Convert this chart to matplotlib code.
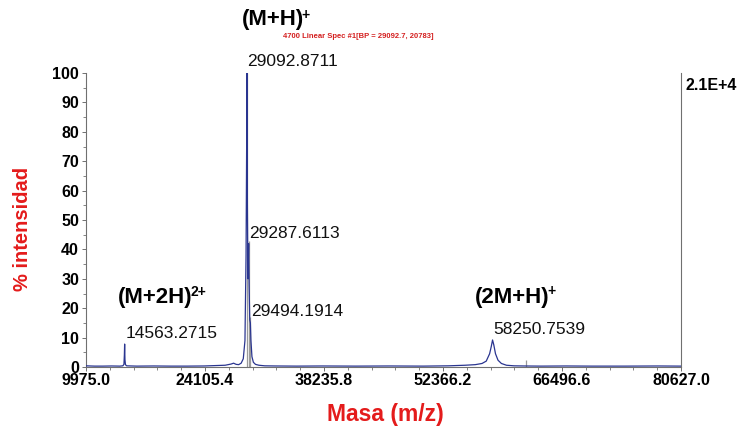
import matplotlib
matplotlib.use("Agg")
import matplotlib.pyplot as plt
from matplotlib.ticker import MultipleLocator, AutoMinorLocator, FixedLocator

plt.rcParams['font.family'] = ['Liberation Sans', 'DejaVu Sans']

# ---- data ----
mz = [9975, 11000, 12000, 13000, 14000, 14350, 14480, 14530, 14563, 14600, 14660, 14800,
      16000, 18000, 20000, 22000, 24000, 25500, 26500, 27200, 27500, 27800, 28100, 28400,
      28650, 28850, 28980, 29050, 29092, 29140, 29200, 29250, 29287, 29340, 29420, 29494,
      29560, 29680, 29850, 30100, 30500, 31200, 32500, 35000, 38000, 42000, 46000, 50000,
      53000, 55000, 56200, 57000, 57500, 57900, 58100, 58250, 58400, 58600, 58900, 59300,
      59900, 60800, 62000, 64000, 67000, 70000, 74000, 78000, 80627]
intensity = [0.4, 0.3, 0.3, 0.35, 0.3, 0.4, 0.9, 4.0, 7.8, 2.5, 0.8, 0.4,
             0.3, 0.35, 0.3, 0.3, 0.35, 0.5, 0.6, 1.0, 1.3, 0.9, 0.8, 1.3,
             2.8, 9.0, 38.0, 75.0, 100.0, 55.0, 30.0, 36.0, 42.0, 28.0, 16.0, 15.0,
             9.0, 3.5, 1.6, 0.9, 0.6, 0.4, 0.35, 0.3, 0.35, 0.3, 0.35, 0.3,
             0.4, 0.6, 0.8, 1.2, 2.0, 4.5, 7.0, 9.2, 7.5, 4.5, 2.3, 1.2,
             0.6, 0.4, 0.35, 0.3, 0.35, 0.3, 0.3, 0.35, 0.3]

marker_mz = [29092.8711, 29287.6113, 29494.1914, 62200]
marker_top = [100, 43, 17, 2.5]

x_ticks = [9975.0, 24105.4, 38235.8, 52366.2, 66496.6, 80627.0]
y_ticks = [0, 10, 20, 30, 40, 50, 60, 70, 80, 90, 100]

peak_labels = ["29092.8711", "29287.6113", "29494.1914", "14563.2715", "58250.7539"]
ion_labels = ["(M+H)", "(M+2H)", "(2M+H)"]
ion_charges = ["+", "2+", "+"]

# ---- figure ----
W, H = 746, 428
fig = plt.figure(figsize=(W / 100, H / 100), dpi=100)
ax = fig.add_axes([86 / W, 1 - 367 / H, (681 - 86) / W, (367 - 73) / H])

spine_c = '#707070'
ax.vlines(marker_mz, 0, marker_top, color='#9a9a9a', lw=0.9, zorder=2)
ax.plot(mz, intensity, color='#2a3590', lw=0.9, zorder=3)

ax.set_xlim(x_ticks[0], x_ticks[-1])
ax.set_ylim(0, 100)
ax.xaxis.set_major_locator(FixedLocator(x_ticks))
ax.set_xticklabels([f"{t:.1f}" for t in x_ticks])
ax.xaxis.set_minor_locator(AutoMinorLocator(5))
ax.yaxis.set_major_locator(FixedLocator(y_ticks))
ax.yaxis.set_minor_locator(MultipleLocator(5))

for s in ['left', 'bottom', 'right']:
    ax.spines[s].set_color(spine_c)
    ax.spines[s].set_linewidth(0.8)
ax.spines['top'].set_visible(False)

ax.tick_params(axis='both', which='major', direction='out', length=3, width=0.7,
               color=spine_c, labelsize=11.5)
ax.tick_params(axis='both', which='minor', direction='out', length=2, width=0.6, color=spine_c)
ax.tick_params(axis='x', pad=1)
ax.tick_params(axis='y', pad=2)
for lab in ax.get_xticklabels() + ax.get_yticklabels():
    lab.set_fontweight('bold')

red = '#e41b1b'
fig.text(23 / W, 1 - 229 / H, "% intensidad", rotation=90, color=red, fontsize=14.5,
         fontweight='bold', ha='center', va='center')
fig.text(385 / W, 1 - 414 / H, "Masa (m/z)", color=red, fontsize=16.5,
         fontweight='bold', ha='center', va='center')

fig.text(283 / W, 1 - 37 / H, "4700 Linear Spec #1[BP = 29092.7, 20783]", color='#d42020',
         fontsize=5.5, fontweight='bold', ha='left', va='center')
fig.text(686 / W, 1 - 86 / H, "2.1E+4", color='black', fontsize=11.5, fontweight='bold',
         ha='left', va='center')

# peak value labels
label_pos = [(247, 62), (249, 233), (251, 311), (126, 333), (493, 330)]
for txt, (px, py) in zip(peak_labels, label_pos):
    fig.text(px / W, 1 - py / H, txt, fontsize=12.5, ha='left', va='center', color='#111111')

# ion labels with superscript charges
ion_pos = [(242, 20), (118, 297), (475, 297)]
renderer = fig.canvas.get_renderer()
for txt, chg, (px, py) in zip(ion_labels, ion_charges, ion_pos):
    t = fig.text(px / W, 1 - py / H, txt, fontsize=16, fontweight='bold', ha='left',
                 va='center', color='black')
    bb = t.get_window_extent(renderer)
    fig.text((bb.x1 - 2.5) / fig.bbox.width, (bb.y1 - 5) / fig.bbox.height, chg,
             fontsize=10, fontweight='bold', ha='left', va='center', color='black')

fig.savefig("out.png", dpi=100, facecolor='white')
